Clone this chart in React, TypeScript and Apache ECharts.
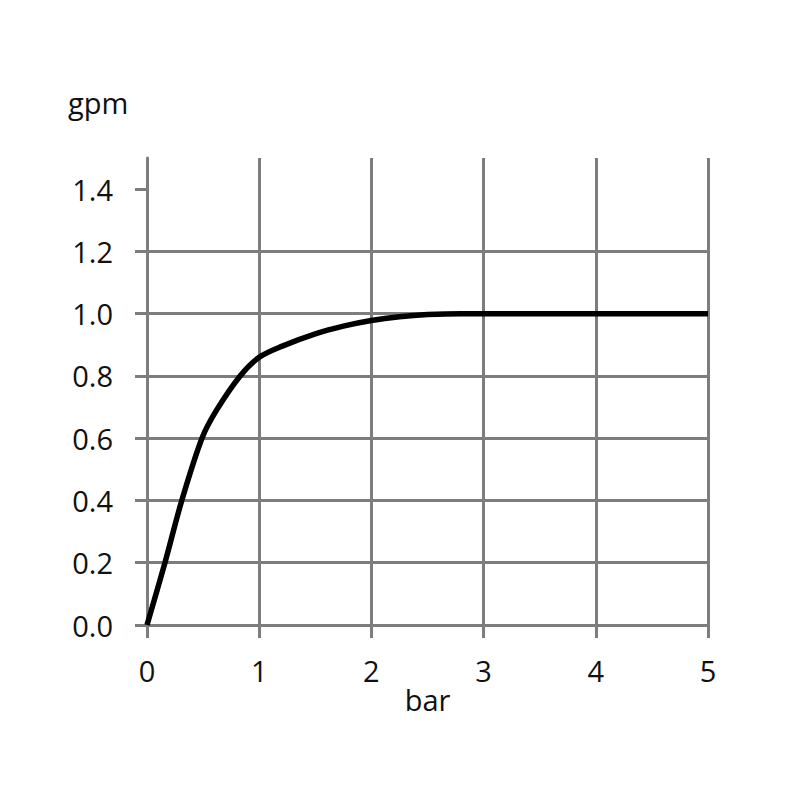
import React, { useEffect, useRef } from "react";
import * as echarts from "echarts";

const pressureBar = [0, 0.16, 0.31, 0.49, 0.62, 0.83, 1.0, 1.2, 1.5, 1.75, 2.0, 2.25, 2.5, 2.8, 3.0, 4.0, 5.0];
const flowGpm = [0, 0.2, 0.4, 0.6, 0.69, 0.8, 0.86, 0.895, 0.935, 0.96, 0.978, 0.99, 0.997, 1.0, 1.0, 1.0, 1.0];
const yTicks = [0, 0.2, 0.4, 0.6, 0.8, 1.0, 1.2, 1.4];
const xTicks = [0, 1, 2, 3, 4, 5];

const FONT = "Open Sans";
const GRID = "#7d7d7d";

export default function App() {
  const ref = useRef<HTMLDivElement>(null);
  useEffect(() => {
    if (!ref.current) return;
    const chart = echarts.init(ref.current, null, { renderer: "svg" });
    chart.setOption({
      animation: false,
      backgroundColor: "#ffffff",
      grid: { left: 147, right: 92, top: 158, bottom: 175, containLabel: false },
      graphic: [
        {
          type: "text",
          left: 68,
          top: 88,
          style: { text: "gpm", font: `29px "${FONT}"`, fill: "#111" },
        },
      ],
      xAxis: {
        type: "value",
        min: 0,
        max: 5,
        interval: 1,
        name: "bar",
        nameLocation: "middle",
        nameGap: 60,
        nameMoveOverlap: false,
        nameTextStyle: { fontFamily: FONT, fontSize: 29, color: "#111" },
        axisLine: { show: true, lineStyle: { color: GRID, width: 3 } },
        axisTick: { show: true, length: 13, lineStyle: { color: GRID, width: 3 } },
        axisLabel: {
          margin: 31,
          fontFamily: FONT,
          fontSize: 29,
          color: "#111",
          customValues: xTicks,
          formatter: (v: number) => String(v),
        },
        splitLine: { show: true, lineStyle: { color: GRID, width: 3 } },
      },
      yAxis: {
        type: "value",
        min: 0,
        max: 1.5,
        interval: 0.2,
        axisLine: { show: true, lineStyle: { color: GRID, width: 3 } },
        axisTick: { show: true, length: 12, customValues: yTicks, lineStyle: { color: GRID, width: 3 } },
        axisLabel: {
          margin: 34,
          fontFamily: FONT,
          fontSize: 29,
          color: "#111",
          customValues: yTicks,
          formatter: (v: number) => v.toFixed(1),
        },
        splitLine: { show: true, showMaxLine: false, lineStyle: { color: GRID, width: 3 } },
      },
      series: [
        {
          type: "line",
          data: pressureBar.map((x, i) => [x, flowGpm[i]]),
          smooth: 0.3,
          showSymbol: false,
          symbol: "none",
          lineStyle: { color: "#000", width: 5.5 },
        },
      ],
    });
    return () => chart.dispose();
  }, []);
  return <div ref={ref} style={{ width: 800, height: 800, margin: -8 }} />;
}
